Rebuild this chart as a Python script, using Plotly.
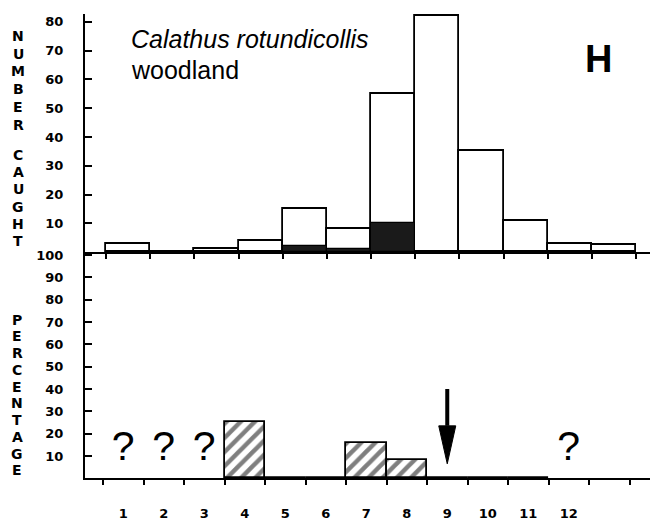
import plotly.graph_objects as go

# ---------------- data ----------------
months = [1, 2, 3, 4, 5, 6, 7, 8, 9, 10, 11, 12]
month_labels = ["1", "2", "3", "4", "5", "6", "7", "8", "9", "10", "11", "12"]
number_caught = [3, 0, 1, 4, 15, 8, 55, 82, 35, 11, 3, 2.5]
number_black = [0, 0, 0, 0, 2, 1, 10, 0, 0, 0, 0, 0]
percentage = [None, None, None, 25, 0, 0, 16, 8, 0, 0, 0, None]
unknown_months = [1, 2, 3, 12]
unknown_level = [13, 13, 13, 13]
arrow_month = 9
arrow_from = 40
arrow_to = 6.5

top_ticks = [10, 20, 30, 40, 50, 60, 70, 80]
top_ticktext = ["10", "20", "30", "40", "50", "60", "70", "80"]
bot_ticks = [10, 20, 30, 40, 50, 60, 70, 80, 90, 100]
bot_ticktext = ["10", "20", "30", "40", "50", "60", "70", "80", "90", "100"]
boundaries = [m - 0.5 for m in months] + [12.5]

W, H = 650, 522


def px(x):
    return x / W


def py(y):
    return 1 - y / H


TICKFONT = dict(family="DejaVu Sans", size=13, color="black", weight="bold")

fig = go.Figure()

# top panel: number caught
fig.add_trace(go.Bar(x=months, y=number_caught, width=1, xaxis="x", yaxis="y",
                     marker=dict(color="white", line=dict(color="black", width=1.8)),
                     showlegend=False))
fig.add_trace(go.Bar(x=months, y=number_black, width=1, xaxis="x", yaxis="y",
                     marker=dict(color="#1a1a1a", line=dict(color="black", width=1.2)),
                     showlegend=False))

# bottom panel: percentage (hatched)
fig.add_trace(go.Bar(x=months, y=percentage, width=1, xaxis="x2", yaxis="y2",
                     marker=dict(color="white", line=dict(color="black", width=1.8),
                                 pattern=dict(shape="/", fgcolor="black", bgcolor="white",
                                              size=10, solidity=0.45)),
                     showlegend=False))

# question marks for unknown months
fig.add_trace(go.Scatter(x=unknown_months, y=unknown_level, mode="text",
                         text=["?"] * len(unknown_months), xaxis="x2", yaxis="y2",
                         textfont=dict(family="Liberation Sans, Arial", size=41, color="black"),
                         showlegend=False, hoverinfo="skip"))

# arrow at month 9 (shaft + head)
head_top = 23.5
half_w = 0.21
fig.add_shape(type="line", xref="x2", yref="y2", x0=arrow_month, x1=arrow_month,
              y0=arrow_from, y1=head_top, line=dict(color="black", width=4))
fig.add_shape(type="path", xref="x2", yref="y2",
              path=f"M {arrow_month - half_w} {head_top} L {arrow_month + half_w} {head_top} "
                   f"L {arrow_month} {arrow_to} Z",
              fillcolor="black", line=dict(color="black", width=1))

fig.update_layout(
    width=W, height=H, margin=dict(l=0, r=0, t=0, b=0),
    paper_bgcolor="white", plot_bgcolor="white", barmode="overlay", bargap=0,
    xaxis=dict(domain=[px(85), 1], range=[0.0246, 12.817], anchor="y",
               showline=True, linecolor="black", linewidth=2, mirror=False,
               tickmode="array", tickvals=boundaries, ticks="outside", ticklen=5,
               tickwidth=1.5, tickcolor="black", showticklabels=False,
               showgrid=False, zeroline=False, fixedrange=True),
    yaxis=dict(domain=[py(250), py(10)], range=[0, 82.76], anchor="x",
               showline=True, linecolor="black", linewidth=2,
               tickmode="array", tickvals=top_ticks, ticktext=top_ticktext,
               ticks="inside", ticklen=7, tickwidth=1.5, tickcolor="black",
               tickfont=TICKFONT, ticklabelstandoff=17,
               showgrid=False, zeroline=False),
    xaxis2=dict(domain=[px(85), 1], range=[0.0556, 14.006], anchor="y2",
                showline=True, linecolor="black", linewidth=2,
                tickmode="array", tickvals=months, ticktext=month_labels,
                ticks="", tickfont=TICKFONT, ticklabelstandoff=22,
                minor=dict(tickmode="array", tickvals=boundaries + [13.5], ticks="outside",
                           ticklen=5, tickwidth=1.5, tickcolor="black", showgrid=False),
                showgrid=False, zeroline=False),
    yaxis2=dict(domain=[py(478), py(250)], range=[0, 101.33], anchor="x2",
                showline=True, linecolor="black", linewidth=2,
                tickmode="array", tickvals=bot_ticks, ticktext=bot_ticktext,
                ticks="inside", ticklen=7, tickwidth=1.5, tickcolor="black",
                tickfont=TICKFONT, ticklabelstandoff=17,
                showgrid=False, zeroline=False),
)

annotations = []
letter_font = dict(family="DejaVu Sans", size=14, color="black", weight="bold")
for i, ch in enumerate("NUMBER"):
    annotations.append(dict(x=px(18), y=py(32 + 18 * i), xref="paper", yref="paper", text=ch,
                            showarrow=False, font=letter_font, xanchor="center", yanchor="middle"))
for i, ch in enumerate("CAUGHT"):
    annotations.append(dict(x=px(18), y=py(152 + 17.4 * i), xref="paper", yref="paper", text=ch,
                            showarrow=False, font=letter_font, xanchor="center", yanchor="middle"))
for i, ch in enumerate("PERCENTAGE"):
    annotations.append(dict(x=px(17), y=py(318 + 16.9 * i), xref="paper", yref="paper", text=ch,
                            showarrow=False, font=letter_font, xanchor="center", yanchor="middle"))

annotations.append(dict(x=px(129), y=py(35), xref="paper", yref="paper",
                        text="<i>Calathus rotundicollis</i>", showarrow=False,
                        font=dict(family="Liberation Sans, Arial", size=25, color="black"),
                        xanchor="left", yanchor="middle"))
annotations.append(dict(x=px(129), y=py(67), xref="paper", yref="paper",
                        text="woodland", showarrow=False,
                        font=dict(family="Liberation Sans, Arial", size=25, color="black"),
                        xanchor="left", yanchor="middle"))
annotations.append(dict(x=px(598), y=py(55), xref="paper", yref="paper",
                        text="<b>H</b>", showarrow=False,
                        font=dict(family="Liberation Sans, Arial", size=38, color="black"),
                        xanchor="center", yanchor="middle"))
fig.update_layout(annotations=annotations)

fig.write_html("out.html")
